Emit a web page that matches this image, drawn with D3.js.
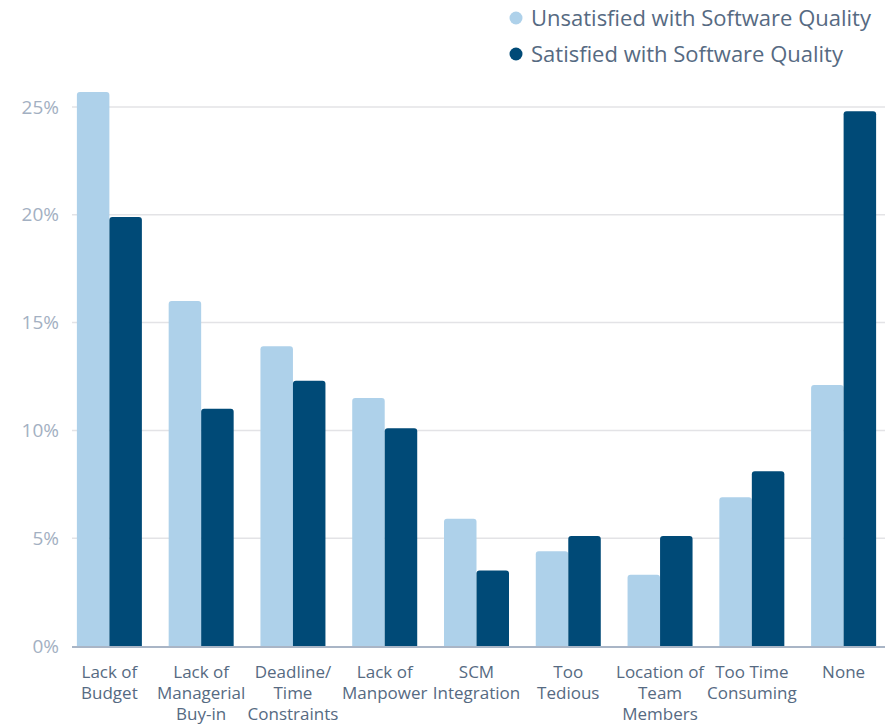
<!DOCTYPE html>
<html>
<head>
<meta charset="utf-8">
<script src="https://cdn.jsdelivr.net/npm/d3@7/dist/d3.min.js"></script>
<style>
  html, body { margin: 0; padding: 0; background: #fff; }
  svg { display: block; font-family: "Open Sans", sans-serif; }
</style>
</head>
<body>
<svg id="chart" width="891" height="724"></svg>
<script>
// Obstacles to adopting better practices, by satisfaction with software quality
const categories = [
  ["Lack of", "Budget"],
  ["Lack of", "Managerial", "Buy-in"],
  ["Deadline/", "Time", "Constraints"],
  ["Lack of", "Manpower"],
  ["SCM", "Integration"],
  ["Too", "Tedious"],
  ["Location of", "Team", "Members"],
  ["Too Time", "Consuming"],
  ["None"]
];
const seriesNames = ["Unsatisfied with Software Quality", "Satisfied with Software Quality"];
const unsatisfied = [25.7, 16.0, 13.9, 11.5, 5.9, 4.4, 3.3, 6.9, 12.1];
const satisfied   = [19.9, 11.0, 12.3, 10.1, 3.5, 5.1, 5.1, 8.1, 24.8];
const yTicks = [0, 5, 10, 15, 20, 25];

const colors = ["#aed1ea", "#004a77"];
const seriesValues = [unsatisfied, satisfied];

const svg = d3.select("#chart");
const keys = categories.map((c, i) => i);

const x0 = d3.scaleBand().domain(keys).range([63.5, 889.5]);
const groupWidth = 65;
const x1 = d3.scaleBand().domain([0, 1]).range([0, groupWidth]);
const y = d3.scaleLinear().domain([0, 25]).range([646, 107]);

const plotLeft = 72, plotRight = 885;

// Horizontal gridlines
svg.append("g")
  .selectAll("line")
  .data(yTicks.filter(t => t > 0))
  .join("line")
  .attr("x1", plotLeft).attr("x2", plotRight)
  .attr("y1", d => y(d)).attr("y2", d => y(d))
  .attr("stroke", "#e3e3e6").attr("stroke-width", 1.5);

// Y-axis tick labels
const yAxis = d3.axisLeft(y).tickValues(yTicks).tickFormat(d => d + "%").tickSize(0).tickPadding(0);
svg.append("g")
  .attr("transform", `translate(59,0)`)
  .call(yAxis)
  .call(g => g.select(".domain").remove())
  .selectAll("text")
  .attr("font-family", "'Open Sans', sans-serif")
  .attr("font-size", 19)
  .attr("fill", "#a3b0c2");

// Bars with slightly rounded tops
function barPath(x, w, yTop, yBase, r) {
  r = Math.min(r, (yBase - yTop));
  return `M${x},${yBase}V${yTop + r}Q${x},${yTop} ${x + r},${yTop}H${x + w - r}Q${x + w},${yTop} ${x + w},${yTop + r}V${yBase}Z`;
}

const groups = svg.append("g")
  .selectAll("g")
  .data(keys)
  .join("g")
  .attr("transform", d => `translate(${x0(d) + (x0.bandwidth() - groupWidth) / 2},0)`);

groups.selectAll("path")
  .data(i => seriesValues.map((vals, s) => ({ s, v: vals[i] })))
  .join("path")
  .attr("d", d => barPath(x1(d.s), x1.bandwidth(), y(d.v), y(0), 3))
  .attr("fill", d => colors[d.s]);

// Baseline
svg.append("line")
  .attr("x1", plotLeft).attr("x2", plotRight)
  .attr("y1", y(0) + 1).attr("y2", y(0) + 1)
  .attr("stroke", "#8d9db3").attr("stroke-width", 1.5);

// Category labels, one text per line
const xLabels = svg.append("g")
  .selectAll("g")
  .data(keys)
  .join("g")
  .attr("transform", d => `translate(${x0(d) + x0.bandwidth() / 2},678)`);
xLabels.selectAll("text")
  .data(d => categories[d])
  .join("text")
  .attr("y", (d, i) => i * 21)
  .attr("text-anchor", "middle")
  .attr("font-size", 17)
  .attr("fill", "#566a82")
  .text(d => d);

// Legend
const legend = svg.append("g")
  .selectAll("g")
  .data(seriesNames)
  .join("g")
  .attr("transform", (d, i) => `translate(516,${18 + i * 36})`);
legend.append("circle")
  .attr("r", 6.5)
  .attr("fill", (d, i) => colors[i]);
legend.append("text")
  .attr("x", 15)
  .attr("dy", "0.35em")
  .attr("font-size", 22)
  .attr("fill", "#566a82")
  .text(d => d);
</script>
</body>
</html>
